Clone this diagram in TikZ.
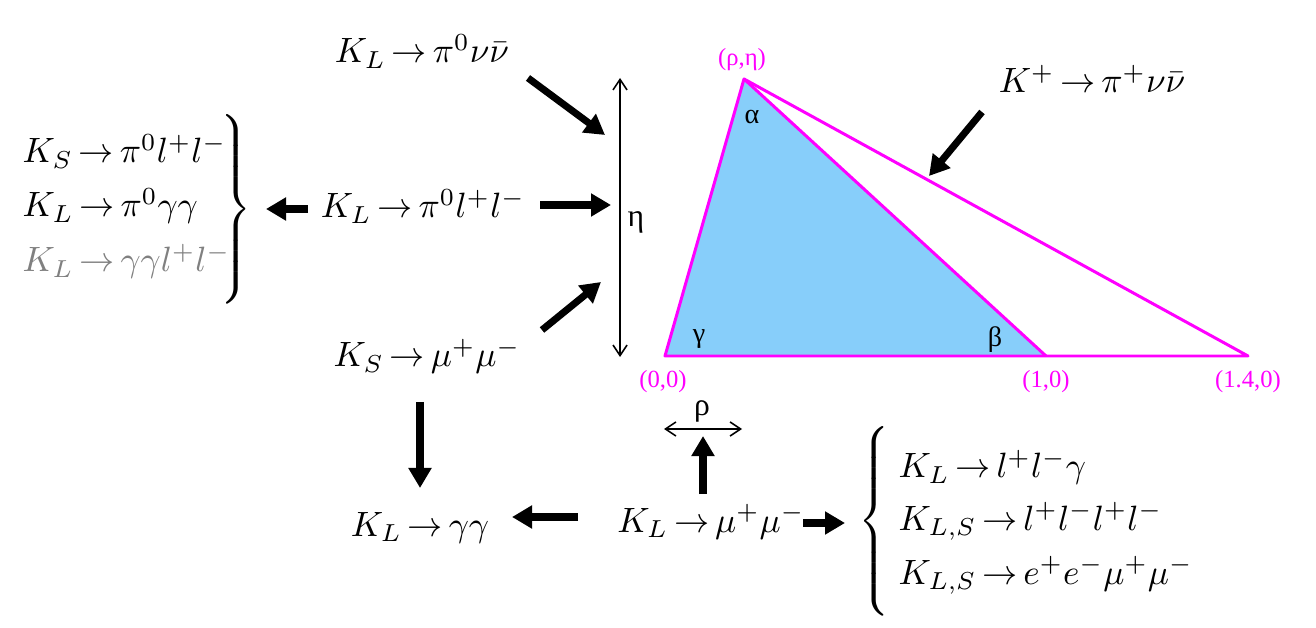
\documentclass[tikz,border=0pt]{standalone}
\usepackage{fix-cm}
\usepackage{fontspec}
\usetikzlibrary{arrows.meta}
\newfontfamily\tfont{Liberation Serif}
\definecolor{mag}{RGB}{255,0,255}
\definecolor{sky}{RGB}{135,206,250}
\definecolor{grayt}{RGB}{128,128,128}
\newcommand\eqfont{\fontsize{10}{12}\selectfont\thickmuskip=3mu\relax}
\begin{document}
\begin{tikzpicture}[x=0.01cm,y=-0.01cm,
  eq/.style={font=\eqfont, inner sep=0pt, anchor=base},
  eqw/.style={font=\eqfont, inner sep=0pt, anchor=base west},
  lab/.style={font=\tfont\fontsize{7}{8}\selectfont, text=mag, inner sep=0},
  ang/.style={font=\tfont\fontsize{8}{9}\selectfont, inner sep=0},
  axlab/.style={font=\tfont\fontsize{9}{10}\selectfont, inner sep=0},
  big/.style={line width=2pt, -{Triangle[length=0.2cm,width=0.22cm]}},
  axisarrow/.style={line width=0.45pt, {Straight Barb[length=3pt,width=4pt]}-{Straight Barb[length=3pt,width=4pt]}},
  tri/.style={draw=mag, line width=0.85pt, line join=round},
  bracenode/.style={inner sep=0, font=\fontsize{10}{12}\selectfont}
]
\useasboundingbox (0,0) rectangle (1316,628);
% triangle
\coordinate (O) at (665,356);
\coordinate (A) at (744,79);
\coordinate (B) at (1046,356);
\coordinate (C) at (1248,356);
\fill[sky] (O) -- (A) -- (B) -- cycle;
\draw[tri] (O) -- (A) -- (C) -- cycle;
\draw[tri] (A) -- (B);
\node[lab] (lA) at (742,60) {(ρ,η)};
\node[lab] (lO) at (663,382) {(0,0)};
\node[lab] (lB) at (1046,382) {(1,0)};
\node[lab] (lC) at (1248,382) {(1.4,0)};
\node[ang] (alpha) at (752,117) {α};
\node[ang] (gamma) at (699,339) {γ};
\node[ang] (beta) at (995,340) {β};
% axes
\coordinate (etaT) at (620,78);
\coordinate (etaB) at (620,357);
\draw[axisarrow] (etaT) -- (etaB);
\node[axlab] (eta) at (636,222) {η};
\coordinate (rhoL) at (664,429);
\coordinate (rhoR) at (742,429);
\draw[axisarrow] (rhoL) -- (rhoR);
\node[axlab] (rho) at (702,411) {ρ};
% equations
\node[eq] (e1) at (422,63) {$K_L \to \pi^0\nu\bar\nu$};
\node[eq] (e2) at (423,218) {$K_L \to \pi^0 l^+l^-$};
\node[eq] (e3) at (427,367) {$K_S \to \mu^+\mu^-$};
\node[eq] (e4) at (420,536) {$K_L \to \gamma\gamma$};
\node[eq] (e5) at (711,532) {$K_L \to \mu^+\mu^-$};
\node[eq] (e6) at (1092,93) {$K^+ \to \pi^+\nu\bar\nu$};
\node[eqw] (l1) at (22,163) {$K_S \to \pi^0 l^+l^-$};
\node[eqw] (l2) at (22,217) {$K_L \to \pi^0 \gamma\gamma$};
\node[eqw, text=grayt] (l3) at (22,272) {$K_L \to \gamma\gamma l^+l^-$};
\node[bracenode] (brR) at (234,209) {$\left.\rule[-0.85cm]{0pt}{1.7cm}\right\}$};
\node[bracenode] (brL) at (876,521) {$\left\{\rule[-0.85cm]{0pt}{1.7cm}\right.$};
\node[eqw] (r1) at (898,478) {$K_L \to l^+l^-\gamma$};
\node[eqw] (r2) at (898,530) {$K_{L,S} \to l^+l^-l^+l^-$};
\node[eqw] (r3) at (898,584) {$K_{L,S} \to e^+e^-\mu^+\mu^-$};
% arrows
\coordinate (a1s) at (528,78);   \coordinate (a1e) at (605,135);
\coordinate (a2s) at (540,205);  \coordinate (a2e) at (611,205);
\coordinate (a3s) at (542,330);  \coordinate (a3e) at (601,282);
\coordinate (a4s) at (982,112);  \coordinate (a4e) at (929,176);
\coordinate (a5s) at (308,209);  \coordinate (a5e) at (266,209);
\coordinate (a6s) at (420,402);  \coordinate (a6e) at (420,488);
\coordinate (a7s) at (578,517);  \coordinate (a7e) at (512,517);
\coordinate (a8s) at (703,494);  \coordinate (a8e) at (703,436);
\coordinate (a9s) at (803,523);  \coordinate (a9e) at (845,523);
\foreach \i in {1,...,9} \draw[big] (a\i s) -- (a\i e);
\end{tikzpicture}
\end{document}
